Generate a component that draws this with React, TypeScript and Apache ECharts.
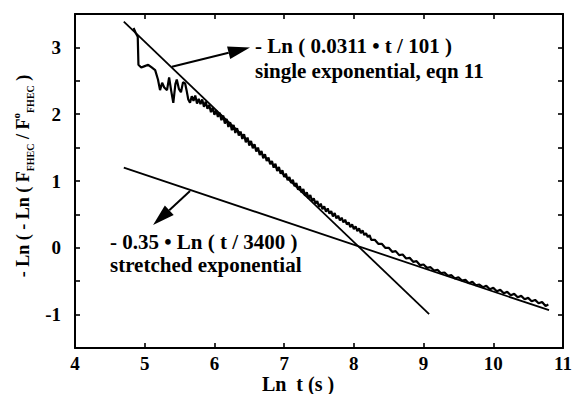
import React, { useEffect, useRef } from "react";
import * as echarts from "echarts";

const curve: [number, number][] = [
  [4.84, 3.29], [4.87, 3.22], [4.9, 3.16], [4.91, 2.74], [4.95, 2.7], [5.0, 2.72],
  [5.05, 2.74], [5.1, 2.7], [5.15, 2.66], [5.19, 2.52], [5.22, 2.36], [5.25, 2.47],
  [5.28, 2.4], [5.32, 2.36], [5.35, 2.55], [5.38, 2.35], [5.41, 2.17], [5.44, 2.45],
  [5.46, 2.52], [5.49, 2.38], [5.52, 2.33], [5.55, 2.48], [5.58, 2.46], [5.6, 2.36],
  [5.625, 2.22], [5.65, 2.17], [5.675, 2.27], [5.7, 2.2], [5.725, 2.28], [5.75, 2.16],
  [5.775, 2.23], [5.8, 2.15], [5.825, 2.22], [5.85, 2.11], [5.875, 2.19], [5.9, 2.08],
  [5.925, 2.14], [5.95, 2.03], [5.975, 2.1], [6.0, 1.99], [6.025, 2.06], [6.05, 1.96],
  [6.075, 2.02], [6.1, 1.91], [6.125, 1.98], [6.15, 1.86], [6.175, 1.93], [6.2, 1.81],
  [6.225, 1.88], [6.25, 1.76], [6.275, 1.84], [6.3, 1.72], [6.325, 1.79], [6.35, 1.68],
  [6.375, 1.74], [6.4, 1.63], [6.425, 1.7], [6.45, 1.58], [6.475, 1.65], [6.5, 1.53],
  [6.525, 1.6], [6.55, 1.49], [6.575, 1.55], [6.6, 1.44], [6.625, 1.5], [6.65, 1.39],
  [6.675, 1.45], [6.7, 1.34], [6.725, 1.4], [6.75, 1.3], [6.775, 1.35], [6.8, 1.25],
  [6.825, 1.3], [6.85, 1.2], [6.875, 1.26], [6.9, 1.15], [6.925, 1.21], [6.95, 1.11],
  [6.975, 1.16], [7.0, 1.06], [7.025, 1.11], [7.05, 1.01], [7.075, 1.06], [7.1, 0.97],
  [7.125, 1.02], [7.15, 0.92], [7.175, 0.97], [7.2, 0.87], [7.225, 0.92], [7.25, 0.83],
  [7.275, 0.88], [7.3, 0.78], [7.325, 0.83], [7.35, 0.74], [7.375, 0.79], [7.4, 0.7],
  [7.425, 0.74], [7.45, 0.66], [7.475, 0.7], [7.5, 0.61], [7.525, 0.66], [7.55, 0.58],
  [7.575, 0.62], [7.6, 0.54], [7.625, 0.59], [7.65, 0.51], [7.675, 0.55], [7.7, 0.47],
  [7.725, 0.52], [7.75, 0.44], [7.775, 0.48], [7.8, 0.41], [7.825, 0.45], [7.85, 0.38],
  [7.875, 0.42], [7.9, 0.35], [7.925, 0.38], [7.95, 0.31], [7.975, 0.35], [8.0, 0.28],
  [8.025, 0.32], [8.05, 0.25], [8.075, 0.29], [8.1, 0.22], [8.125, 0.26], [8.15, 0.19],
  [8.175, 0.22], [8.2, 0.16], [8.225, 0.19], [8.25, 0.12], [8.3, 0.12], [8.35, 0.06],
  [8.4, 0.06], [8.45, 0.0], [8.5, 0.0], [8.55, -0.06], [8.6, -0.05], [8.65, -0.11],
  [8.7, -0.1], [8.75, -0.16], [8.8, -0.15], [8.85, -0.21], [8.9, -0.2], [8.95, -0.26],
  [9.0, -0.25], [9.05, -0.3], [9.1, -0.29], [9.15, -0.34], [9.2, -0.33], [9.25, -0.38],
  [9.3, -0.37], [9.35, -0.42], [9.4, -0.41], [9.45, -0.46], [9.5, -0.44], [9.55, -0.49],
  [9.6, -0.48], [9.65, -0.53], [9.7, -0.51], [9.75, -0.56], [9.8, -0.55], [9.85, -0.59],
  [9.9, -0.57], [9.95, -0.62], [10.0, -0.6], [10.05, -0.65], [10.1, -0.63], [10.15, -0.68],
  [10.2, -0.66], [10.25, -0.71], [10.3, -0.69], [10.35, -0.74], [10.4, -0.72], [10.45, -0.77],
  [10.5, -0.75], [10.55, -0.8], [10.6, -0.78], [10.65, -0.83], [10.7, -0.81], [10.75, -0.87],
  [10.79, -0.85],
];

// fitted lines (endpoints)
const singleExpLine: [number, number][] = [[4.7, 3.386], [9.08, -0.994]];
const stretchedLine: [number, number][] = [[4.7, 1.2], [10.8, -0.934]];

// arrows: [fromX, fromY, toX, toY]
const arrows: number[][] = [
  [5.39, 2.71, 6.51, 3.0],
  [5.65, 0.85, 5.12, 0.34],
];

const yTicks = [-1, 0, 1, 2, 3];

const FONT = "Liberation Serif, Times New Roman, serif";

export default function App() {
  const ref = useRef<HTMLDivElement>(null);
  useEffect(() => {
    if (!ref.current) return;
    const chart = echarts.init(ref.current, null, { renderer: "svg" });
    const axisLine = { show: true, onZero: false, lineStyle: { color: "#000", width: 2 } };
    const tickStyle = { show: true, inside: true, length: 5, lineStyle: { color: "#000", width: 1.6 } };
    const note = (x: number, y: number, text: string, align = "left", size = 21) => ({
      type: "text", x, y,
      style: { text, fontFamily: FONT, fontWeight: "bold", fontSize: size, fill: "#000", align, verticalAlign: "middle" },
    });
    chart.setOption({
      animation: false,
      backgroundColor: "#fff",
      textStyle: { fontFamily: FONT },
      grid: { left: 75, right: 12, top: 14, bottom: 46, containLabel: false },
      xAxis: [
        {
          type: "value", min: 4, max: 11, interval: 1, position: "bottom",
          axisLine, axisTick: tickStyle, splitLine: { show: false },
          axisLabel: { color: "#000", fontFamily: FONT, fontWeight: "bold", fontSize: 19, margin: 6, lineHeight: 19 },
        },
        {
          type: "value", min: 4, max: 11, interval: 1, position: "top",
          axisLine, axisTick: tickStyle, splitLine: { show: false }, axisLabel: { show: false },
        },
      ],
      yAxis: [
        {
          type: "value", min: -1.5, max: 3.5, interval: 0.5, position: "left",
          axisLine, axisTick: tickStyle, splitLine: { show: false },
          axisLabel: {
            color: "#000", fontFamily: FONT, fontWeight: "bold", fontSize: 19, margin: 14,
            formatter: (v: number) => (yTicks.includes(v) ? String(v) : ""),
          },
        },
        {
          type: "value", min: -1.5, max: 3.5, interval: 0.5, position: "right",
          axisLine, axisTick: tickStyle, splitLine: { show: false },
          axisLabel: { show: false },
        },
      ],
      series: [
        {
          type: "line", data: curve, showSymbol: false, symbol: "none",
          lineStyle: { color: "#000", width: 2.2 }, z: 3,
        },
        {
          type: "line", data: singleExpLine, showSymbol: false, symbol: "none",
          lineStyle: { color: "#000", width: 1.8 }, z: 2,
        },
        {
          type: "line", data: stretchedLine, showSymbol: false, symbol: "none",
          lineStyle: { color: "#000", width: 1.8 }, z: 2,
        },
        {
          type: "custom",
          data: arrows,
          encode: { x: [0, 2], y: [1, 3] },
          z: 4,
          renderItem: (params: any, api: any) => {
            const p1 = api.coord([api.value(0), api.value(1)]);
            const p2 = api.coord([api.value(2), api.value(3)]);
            const dx = p2[0] - p1[0];
            const dy = p2[1] - p1[1];
            const len = Math.sqrt(dx * dx + dy * dy);
            const ux = dx / len, uy = dy / len;
            const headLen = 22, halfW = 6.5;
            const bx = p2[0] - ux * headLen, by = p2[1] - uy * headLen;
            return {
              type: "group",
              children: [
                { type: "line", shape: { x1: p1[0], y1: p1[1], x2: bx, y2: by }, style: { stroke: "#000", lineWidth: 2 } },
                {
                  type: "polygon",
                  shape: { points: [[p2[0], p2[1]], [bx - uy * halfW, by + ux * halfW], [bx + uy * halfW, by - ux * halfW]] },
                  style: { fill: "#000" },
                },
              ],
            };
          },
        },
      ],
      graphic: [
        note(255, 46, "- Ln ( 0.0311 • t / 101 )"),
        note(255, 71, "single exponential, eqn 11"),
        note(110, 242, "- 0.35 • Ln ( t / 3400 )"),
        note(110, 265, "stretched exponential"),
        note(298, 384, "Ln  t (s )", "center", 20),
        {
          type: "text", x: 23, y: 176, rotation: Math.PI / 2,
          style: {
            text: "{m|- Ln ( - Ln ( F}{s|FHEC}{m| / F}{p|o}{s|FHEC}{m| )}",
            align: "center", verticalAlign: "middle", fill: "#000",
            rich: {
              m: { fontFamily: FONT, fontWeight: "bold", fontSize: 18, lineHeight: 25, verticalAlign: "middle", fill: "#000" },
              s: { fontFamily: FONT, fontWeight: "bold", fontSize: 10, verticalAlign: "bottom", fill: "#000" },
              p: { fontFamily: FONT, fontWeight: "bold", fontSize: 11, verticalAlign: "top", fill: "#000" },
            },
          },
        },
      ],
    });
    return () => chart.dispose();
  }, []);
  return <div ref={ref} style={{ position: "absolute", left: 0, top: 0, width: 575, height: 394 }} />;
}
